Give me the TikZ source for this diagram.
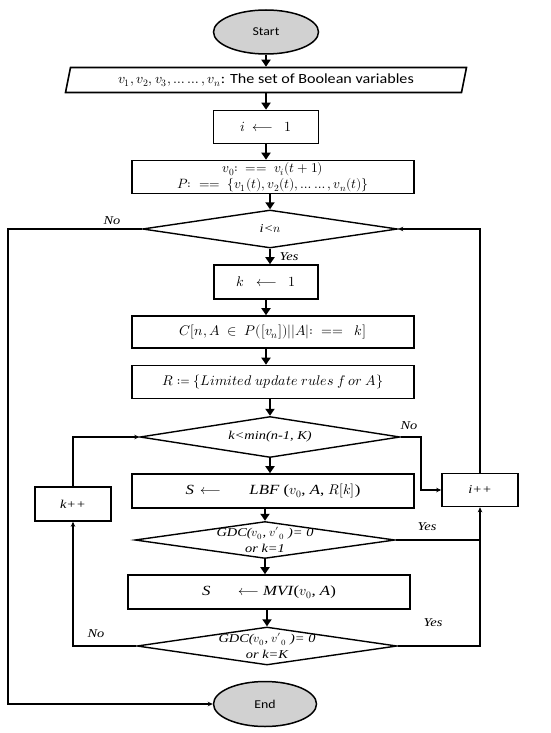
\documentclass[tikz,border=0pt]{standalone}
\usepackage{fontspec}
\usepackage{unicode-math}
\setmainfont{Liberation Serif}[FakeStretch=1.2]
\newfontfamily\sansfont{Carlito}[FakeStretch=1.15]
\setmathfont{Latin Modern Math}
\usetikzlibrary{shapes.geometric,arrows.meta}

\tikzset{
	term/.style={ellipse, draw, line width=1.5pt, fill=black!18, minimum width=105, minimum height=44, font=\sansfont\fontsize{12}{14}\selectfont},
	proc/.style={rectangle, draw, line width=1.6pt, minimum height=33, align=center, font=\fontsize{14}{15}\selectfont},
	inout/.style={trapezium, trapezium left angle=76, trapezium right angle=104, trapezium stretches body, draw, line width=1.6pt, minimum width=401, minimum height=25, font=\fontsize{14}{15}\selectfont},
	decide/.style={diamond, draw, line width=1.4pt, inner sep=0pt},
	dtext/.style={align=center, font=\itshape\fontsize{12}{15}\selectfont},
	flow/.style={line width=2.3pt, -{Triangle[width=9pt,length=7pt]}},
	link/.style={line width=1.3pt},
	tip/.style={-{Stealth[length=5pt,width=4.5pt]}},
	note/.style={font=\itshape\fontsize{12}{14}\selectfont}
}

\begin{document}
\begin{tikzpicture}[x=1pt, y=-1pt]
			%%%%% START %%%%%
			\useasboundingbox (0, 0) rectangle (550, 733);
			
			\node[term] (start) at (266, 32) {Start};
			\node[inout] (vars) at (266, 80) {$v_1, v_2, v_3, \dots\dots, v_n$\sansfont: The set of Boolean variables};
			\node[proc, minimum width=105] (iinit) at (266, 127) {$i\;\longleftarrow\;\; 1$};
			\node[proc, minimum width=282, inner ysep=1pt, font=\fontsize{13.5}{16.5}\selectfont] (pdef) at (273, 177) {$v_0{:}\;\mathrel{==}\;v_i(t+1)$\\$P{:}\;\mathrel{==}\;\{v_1(t), v_2(t), \dots\dots, v_n(t)\}$};
			
			\node[decide, minimum width=255, minimum height=38, label={[dtext]center:\textit{i<}$n$}] (icond) at (270, 229) {};
			
			\node[proc, minimum width=104, minimum height=34] (kinit) at (266, 282) {$k\;\;\longleftarrow\;\; 1$};
			\node[proc, minimum width=282, minimum height=32] (cdef) at (273, 332) {$C[n, A\;\in\;P([v_n])||A|{:}\;\mathrel{==}\;\;k]$};
			\node[proc, minimum width=282] (rdef) at (273, 382) {$R \coloneq \{Limited\ update\ rules\ f\,or\ A\}$};
			
			\node[decide, minimum width=260, minimum height=41, label={[dtext]center:k<min(n-1, K)}] (kcond) at (270, 437) {};
			
			\node[proc, minimum width=282, minimum height=34] (lbf) at (273, 491) {\textit{S}\enspace$\longleftarrow$\qquad\textit{LBF} ($v_0$,\ \textit{A},\ $R[k]$)};
			
			\node[decide, minimum width=260, minimum height=37, label={[dtext]center:GDC($v_0$, $v'{}_{0}$ )= 0\\[1pt]or k=1}] (gdc1) at (265, 540) {};
			
			\node[proc, minimum width=282, minimum height=34] (mvi) at (269, 592) {\textit{S}\qquad$\longleftarrow$\ \textit{MVI}($v_0$,\ \textit{A})};
			
			\node[decide, minimum width=260, minimum height=38, label={[dtext]center:GDC($v_0$, $v'{}_{0}$ )= 0\\[1pt]or k=K}] (gdc2) at (267, 646) {};
			
			\node[term, minimum width=103, minimum height=45] (finish) at (265, 704) {End};
			
			\node[proc, minimum width=76, font=\itshape\fontsize{12}{14}\selectfont] (iinc) at (480, 490) {i++};
			\node[proc, minimum width=76, minimum height=34, font=\itshape\fontsize{12}{14}\selectfont] (kinc) at (73, 504) {k++};
			
			\coordinate (lft) at (8, 0);
			\coordinate (mid) at (421, 0);
			
			% main column
			\draw[flow] (start.south) -- (start.south |- vars.north);
			\draw[flow] (vars.south) -- (vars.south |- iinit.north);
			\draw[flow] (iinit.south) -- (iinit.south |- pdef.north);
			\draw[flow] (icond.north |- pdef.south) -- (icond.north);
			\draw[flow] (icond.south) -- (icond.south |- kinit.north);
			\draw[flow] (kinit.south) -- (kinit.south |- cdef.north);
			\draw[flow] (kinit.south |- cdef.south) -- (kinit.south |- rdef.north);
			\draw[flow] (kcond.north |- rdef.south) -- (kcond.north);
			\draw[flow] (kcond.south) -- (kcond.south |- lbf.north);
			\draw[flow] (gdc1.north |- lbf.south) -- (gdc1.north);
			\draw[flow] (gdc1.south) -- (gdc1.south |- mvi.north);
			\draw[flow] (gdc2.north |- mvi.south) -- (gdc2.north);
			
			% loops
			\draw[link, tip] (icond.west) -- (icond.west -| lft) |- (finish.west);
			\draw[link, tip] (iinc.north) |- (icond.east);
			\draw[link, tip] (kcond.east) -- (kcond.east -| mid) |- (iinc.west);
			\draw[link, tip] (gdc1.east) -| (iinc.south);
			\draw[link] (gdc2.east) -| (iinc.south |- gdc1.east);
			\draw[link, tip] (gdc2.west) -| (kinc.south);
			\draw[link, tip] (kinc.north) |- (kcond.west);
			
			\node[note] (no1) at (112, 221) {No};
			\node[note] (yes1) at (289, 257) {Yes};
			\node[note] (no2) at (409, 426) {No};
			\node[note] (yes2) at (427, 527) {Yes};
			\node[note] (yes3) at (433, 623) {Yes};
			\node[note] (no3) at (96, 634) {No};
			
			%%%%% END %%%%%
		\end{tikzpicture}
\end{document}
